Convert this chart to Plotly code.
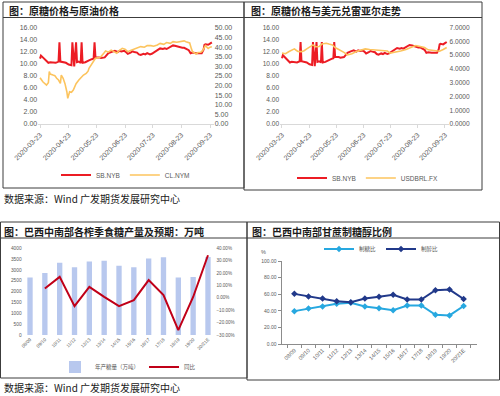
import plotly.graph_objects as go

W, H = 500, 396
def px(x): return x / W
def py(y): return 1 - y / H

# ---------------- data ----------------
sb_dates = ["2020-03-23","2020-03-24","2020-03-26","2020-03-30","2020-04-01","2020-04-03","2020-04-07","2020-04-09",
            "2020-04-12","2020-04-13","2020-04-14","2020-04-16","2020-04-20","2020-04-23","2020-04-26","2020-04-27",
            "2020-04-29","2020-05-01","2020-05-02","2020-05-04","2020-05-06","2020-05-07","2020-05-08","2020-05-11",
            "2020-05-13","2020-05-15","2020-05-18","2020-05-20","2020-05-21","2020-05-22","2020-05-26","2020-05-28",
            "2020-06-01","2020-06-03","2020-06-05","2020-06-08","2020-06-10","2020-06-12","2020-06-15","2020-06-17",
            "2020-06-19","2020-06-22","2020-06-24","2020-06-26","2020-06-29","2020-07-01","2020-07-03","2020-07-06",
            "2020-07-08","2020-07-10","2020-07-13","2020-07-15","2020-07-17","2020-07-20","2020-07-22","2020-07-24",
            "2020-07-27","2020-07-29","2020-07-31","2020-08-03","2020-08-05","2020-08-07","2020-08-10","2020-08-12",
            "2020-08-14","2020-08-17","2020-08-19","2020-08-21","2020-08-24","2020-08-26","2020-08-28","2020-08-31",
            "2020-09-02","2020-09-04","2020-09-08","2020-09-10","2020-09-14","2020-09-16","2020-09-17","2020-09-18",
            "2020-09-21","2020-09-23","2020-09-25"]
sb_values = [10.9, 11.4, 11.1, 10.4, 10.2, 10.3, 10.3, 10.2,
             10.4, 13.6, 10.4, 10.3, 10.2, 9.9, 9.8, 13.6,
             9.6, 13.6, 10.3, 10.4, 10.2, 13.6, 10.2, 10.3,
             10.4, 10.6, 10.8, 10.9, 13.6, 11.1, 11.1, 11.0,
             11.1, 11.4, 11.8, 12.0, 12.1, 12.2, 12.0, 12.2,
             12.1, 12.2, 12.0, 11.7, 11.9, 12.1, 12.0, 11.9,
             11.6, 11.5, 11.7, 11.6, 11.8, 11.6, 11.7, 11.9,
             12.3, 12.4, 12.6, 12.5, 12.6, 12.5, 12.8, 13.0,
             13.1, 13.0, 12.9, 12.8, 12.7, 12.7, 12.5, 12.3,
             11.8, 11.9, 11.8, 11.8, 11.8, 12.4, 13.2, 13.3,
             13.2, 13.4, 13.6]

cl_dates = ["2020-03-23","2020-03-26","2020-03-30","2020-04-01","2020-04-02","2020-04-03","2020-04-06","2020-04-08",
            "2020-04-10","2020-04-12","2020-04-14","2020-04-15","2020-04-17","2020-04-19","2020-04-21","2020-04-22",
            "2020-04-24","2020-04-26","2020-04-28","2020-05-01","2020-05-04","2020-05-06","2020-05-09","2020-05-12",
            "2020-05-14","2020-05-15","2020-05-17","2020-05-20","2020-05-22","2020-05-26","2020-05-28","2020-05-31",
            "2020-06-02","2020-06-05","2020-06-08","2020-06-11","2020-06-14","2020-06-17","2020-06-20","2020-06-23",
            "2020-06-26","2020-06-29","2020-07-03","2020-07-07","2020-07-10","2020-07-14","2020-07-17","2020-07-21",
            "2020-07-24","2020-07-28","2020-07-31","2020-08-04","2020-08-07","2020-08-11","2020-08-14","2020-08-18",
            "2020-08-21","2020-08-23","2020-08-26","2020-08-28","2020-09-01","2020-09-03","2020-09-04","2020-09-08",
            "2020-09-10","2020-09-13","2020-09-15","2020-09-18","2020-09-21","2020-09-23","2020-09-25"]
cl_values = [24.1, 22.0, 20.3, 21.5, 27.3, 26.0, 25.5, 25.2,
             23.8, 22.9, 21.2, 25.5, 23.8, 21.0, 16.8, 13.4,
             16.8, 16.5, 17.7, 21.0, 22.9, 24.1, 25.5, 26.4,
             27.5, 29.0, 30.7, 32.5, 34.2, 34.6, 35.1, 36.8,
             38.0, 37.4, 38.5, 37.7, 36.9, 38.4, 39.4, 39.0,
             37.7, 38.3, 39.1, 40.0, 40.3, 40.0, 40.8, 40.8,
             40.5, 41.2, 42.0, 41.5, 42.4, 42.0, 42.9, 42.6,
             42.8, 43.2, 43.3, 42.9, 42.2, 39.0, 37.7, 36.5,
             37.2, 37.4, 38.2, 40.8, 39.3, 40.0, 40.2]

brl_dates = ["2020-03-23","2020-03-27","2020-03-31","2020-04-03","2020-04-06","2020-04-08","2020-04-10","2020-04-14",
             "2020-04-17","2020-04-20","2020-04-24","2020-04-27","2020-04-30","2020-05-04","2020-05-07","2020-05-12",
             "2020-05-15","2020-05-19","2020-05-22","2020-05-27","2020-06-01","2020-06-05","2020-06-10","2020-06-15",
             "2020-06-19","2020-06-25","2020-06-30","2020-07-06","2020-07-10","2020-07-15","2020-07-20","2020-07-23",
             "2020-07-28","2020-07-31","2020-08-04","2020-08-10","2020-08-14","2020-08-18","2020-08-21","2020-08-26",
             "2020-08-31","2020-09-04","2020-09-08","2020-09-14","2020-09-17","2020-09-21","2020-09-25"]
brl_values = [5.14, 5.10, 5.26, 5.35, 5.45, 5.35, 5.26, 5.25,
              5.32, 5.45, 5.62, 5.74, 5.60, 5.62, 5.80, 5.86,
              5.80, 5.74, 5.55, 5.38, 5.20, 5.01, 5.10, 5.26,
              5.35, 5.45, 5.40, 5.38, 5.35, 5.36, 5.30, 5.14,
              5.20, 5.22, 5.30, 5.40, 5.50, 5.60, 5.69, 5.62,
              5.55, 5.38, 5.35, 5.26, 5.28, 5.40, 5.55]

month_ticks = ["2020-03-23","2020-04-23","2020-05-23","2020-06-23","2020-07-23","2020-08-23","2020-09-23"]

seasons = ["08/09","09/10","10/11","11/12","12/13","13/14","14/15","15/16","16/17","17/18","18/19","19/20","20/21E"]
sugar_output = [2650, 2860, 3330, 3130, 3390, 3420, 3200, 3130, 3530, 3590, 2650, 2680, 3600]
yoy_change = [None, 0.075, 0.169, -0.067, 0.089, 0.008, -0.067, -0.018, 0.143, 0.022, -0.26, 0.007, 0.344]

sugar_mix = [39.6, 42.7, 45.2, 48.4, 49.8, 45.2, 43.1, 40.7, 46.4, 46.4, 35.2, 34.4, 45.8]
ethanol_mix = [60.4, 57.3, 54.8, 51.6, 50.2, 54.8, 56.9, 59.3, 53.6, 53.6, 64.8, 65.6, 54.2]

# ---------------- styles ----------------
RED = "#ec1c24"
ORANGE = "#fcc45e"
BAR = "#b8c8ee"
DARKRED = "#c00018"
SKY = "#27a8e0"
NAVY = "#21398a"
GRAY = "#595959"
FONT = "Liberation Sans, Arial, sans-serif"
CJK = "Noto Sans CJK SC"

fig = go.Figure()
fig.add_trace(go.Scatter(x=sb_dates, y=sb_values, name="SB.NYB", mode="lines",
                         line=dict(color=RED, width=2), xaxis="x", yaxis="y", legend="legend"))
fig.add_trace(go.Scatter(x=cl_dates, y=cl_values, name="CL.NYM", mode="lines",
                         line=dict(color=ORANGE, width=1.6), xaxis="x", yaxis="y2", legend="legend"))
fig.add_trace(go.Scatter(x=sb_dates, y=sb_values, name="SB.NYB", mode="lines",
                         line=dict(color=RED, width=2), xaxis="x2", yaxis="y3", legend="legend2"))
fig.add_trace(go.Scatter(x=brl_dates, y=brl_values, name="USDBRL.FX", mode="lines",
                         line=dict(color=ORANGE, width=1.6), xaxis="x2", yaxis="y4", legend="legend2"))
fig.add_trace(go.Bar(x=seasons, y=sugar_output, name="年产糖量（万吨）", marker=dict(color=BAR, line=dict(width=0)),
                     xaxis="x3", yaxis="y5", legend="legend3"))
fig.add_trace(go.Scatter(x=seasons, y=yoy_change, name="同比", mode="lines",
                         line=dict(color=DARKRED, width=2), xaxis="x3", yaxis="y6", legend="legend3"))
fig.add_trace(go.Scatter(x=seasons, y=sugar_mix, name="制糖比", mode="lines+markers",
                         line=dict(color=SKY, width=2), marker=dict(symbol="diamond", size=5, color=SKY),
                         xaxis="x4", yaxis="y7", legend="legend4"))
fig.add_trace(go.Scatter(x=seasons, y=ethanol_mix, name="制醇比", mode="lines+markers",
                         line=dict(color=NAVY, width=2), marker=dict(symbol="diamond", size=5, color=NAVY),
                         xaxis="x4", yaxis="y7", legend="legend4"))

def date_axis(x0, x1, anchor):
    return dict(domain=[px(x0), px(x1)], anchor=anchor, type="date", automargin=False,
                range=["2020-03-21", "2020-09-27"], tickmode="array", tickvals=month_ticks,
                ticktext=month_ticks, tickangle=-45, tickfont=dict(size=7, color=GRAY, family=FONT),
                showline=True, linecolor="#d9d9d9", linewidth=1, ticks="outside", ticklen=3,
                tickcolor="#d9d9d9", showgrid=False, zeroline=False)

def val_axis(y_bottom, y_top, anchor, rng, dtick, fmt, size, side="left", overlay=None):
    d = dict(domain=[py(y_bottom), py(y_top)], anchor=anchor, range=rng, dtick=dtick, tickformat=fmt,
             tickfont=dict(size=size, color=GRAY, family=FONT), showgrid=False, zeroline=False,
             showline=False, side=side, ticks="", automargin=False)
    if overlay:
        d["overlaying"] = overlay
    return d

cat_font = dict(size=4.6, color=GRAY, family=FONT)

def leg(x_left, y_mid, size, family):
    return dict(x=px(x_left), y=py(y_mid), xanchor="left", yanchor="middle", orientation="h",
                font=dict(size=size, color=GRAY, family=family), itemwidth=30, bgcolor="rgba(0,0,0,0)",
                borderwidth=0, tracegroupgap=0)

fig.update_layout(
    template="none",
    width=W, height=396, margin=dict(l=0, r=0, t=0, b=0, autoexpand=False),
    paper_bgcolor="white", plot_bgcolor="rgba(0,0,0,0)", bargap=0.64,
    xaxis=date_axis(38.2, 213.7, "y"),
    yaxis=val_axis(124, 28, "x", [0, 16], 2, ".2f", 7),
    yaxis2=val_axis(124, 28, "x", [0, 50], 5, ".2f", 7, side="right", overlay="y"),
    xaxis2=date_axis(280.2, 448.5, "y3"),
    yaxis3=val_axis(124, 27.5, "x2", [0, 16], 2, ".2f", 6.6),
    yaxis4=val_axis(124, 27.5, "x2", [0, 7], 1, ".4f", 6.6, side="right", overlay="y3"),
    xaxis3=dict(domain=[px(22.6), px(215.4)], anchor="y5", type="category", tickangle=-45, automargin=False,
                tickfont=cat_font, showgrid=False, showline=False, ticks="", zeroline=False),
    yaxis5=val_axis(335, 248.3, "x3", [0, 4000], 500, "d", 4.8),
    yaxis6=val_axis(335, 248.3, "x3", [-0.3, 0.4], 0.1, ".2%", 4.6, side="right", overlay="y5"),
    xaxis4=dict(domain=[px(281.5), px(476.5)], anchor="y7", type="category", tickangle=-45, automargin=False,
                tickfont=dict(size=5.5, color=GRAY, family=FONT), showgrid=False, showline=True, zeroline=False,
                linecolor="#8c8c8c", ticks="outside", tickson="boundaries", ticklen=3, tickcolor="#8c8c8c"),
    yaxis7=dict(domain=[py(344), py(261)], anchor="x4", range=[0, 100], dtick=20, tickformat=".2f",
                tickfont=dict(size=5, color=GRAY, family=FONT), showgrid=False, zeroline=False, automargin=False,
                showline=True, linecolor="#8c8c8c", ticks="outside", ticklen=3, tickcolor="#8c8c8c"),
    legend=leg(56, 175, 6.5, FONT),
    legend2=leg(292, 178, 6.5, FONT),
    legend3=leg(55, 367, 5.5, CJK),
    legend4=leg(319, 249, 5.5, CJK),
)

# ---------------- frames and titles ----------------
BOX = "#3c3c3c"
shapes = []
def rect(x0, y0, x1, y1):
    shapes.append(dict(type="rect", xref="paper", yref="paper", x0=px(x0), x1=px(x1), y0=py(y1), y1=py(y0),
                       line=dict(color=BOX, width=1), fillcolor="rgba(0,0,0,0)", layer="below"))
def hline(x0, x1, y):
    shapes.append(dict(type="line", xref="paper", yref="paper", x0=px(x0), x1=px(x1), y0=py(y), y1=py(y),
                       line=dict(color=BOX, width=1), layer="below"))

rect(3, 2, 244, 188); hline(3, 244, 17.5)
rect(244, 2, 482, 190); hline(244, 482, 17.5)
rect(0.5, 222, 247, 378); hline(0.5, 247, 238)
rect(247, 222, 499.5, 380); hline(247, 499.5, 238)
fig.update_layout(shapes=shapes)

def text(x, y, s, size, bold=False, color="#1a1a1a", family=CJK, anchor="left"):
    fig.add_annotation(x=px(x), y=py(y), xref="paper", yref="paper", text=f"<b>{s}</b>" if bold else s,
                       showarrow=False, xanchor=anchor, yanchor="middle", borderpad=0,
                       font=dict(size=size, color=color, family=family))

text(8, 10.5, "图：原糖价格与原油价格", 10, bold=True)
text(250, 10.5, "图：原糖价格与美元兑雷亚尔走势", 10, bold=True)
text(3, 231, "图：巴西中南部各榨季食糖产量及预期：万吨", 10, bold=True)
text(251, 231, "图：巴西中南部甘蔗制糖醇比例", 10, bold=True)
text(3, 199, "数据来源：Wind 广发期货发展研究中心", 10)
text(3, 387.5, "数据来源：Wind 广发期货发展研究中心", 10)
text(263, 252, "%", 5.5, color=GRAY, family=FONT, anchor="center")

fig.write_html("out.html", config={"displayModeBar": False, "staticPlot": True},
               post_script="document.body.style.margin='0';document.body.style.padding='0';"
                           "document.documentElement.style.overflow='hidden';")
